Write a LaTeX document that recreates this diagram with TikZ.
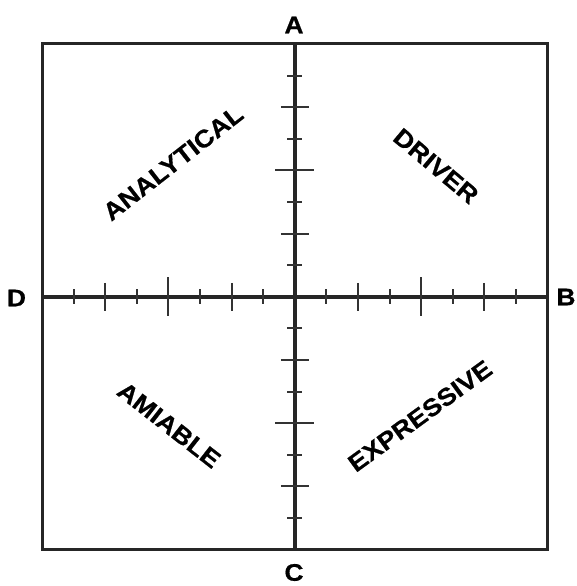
\documentclass[tikz,border=0pt]{standalone}
\usepackage{fontspec}
\setmainfont{Liberation Sans}[FakeStretch=1.1, BoldFeatures={FakeBold=0.6}]
\usetikzlibrary{calc}

\begin{document}
\begin{tikzpicture}[
  x=1pt, y=-1pt,
  frame/.style={draw=black!85, line width=3pt},
  axisline/.style={draw=black!85, line width=3.6pt},
  tickmark/.style={draw=black!80, line width=2pt},
  pole/.style={font=\fontsize{24}{24}\selectfont\bfseries, inner sep=0pt},
  quad/.style={font=\fontsize{24.5}{24.5}\selectfont\bfseries, inner sep=0pt}
]
  \useasboundingbox (0,0) rectangle (577,586);

  % frame and axes
  \coordinate (nw) at (42,44);
  \coordinate (se) at (547.5,549.5);
  \coordinate (o) at (294.75,296.75);
  \coordinate (top) at (294.75,44);
  \coordinate (bot) at (294.75,549.5);
  \coordinate (lft) at (42,296.75);
  \coordinate (rgt) at (547.5,296.75);
  \draw[frame] (nw) rectangle (se);
  \draw[axisline] (lft) -- (rgt);
  \draw[axisline] (top) -- (bot);

  % scale marks
  \foreach \k in {1,...,7} {
    \pgfmathsetmacro\h{\k==4 ? 19.5 : (mod(\k,2)==0 ? 14 : 7.5)}
    \foreach \s in {-1,1} {
      \draw[tickmark] ([shift={(\s*\k*31.6,-\h)}]o) -- ([shift={(\s*\k*31.6,\h)}]o);
      \draw[tickmark] ([shift={(-\h,\s*\k*31.6)}]o) -- ([shift={(\h,\s*\k*31.6)}]o);
    }
  }

  % poles
  \node[pole] (a) at (294,25) {A};
  \node[pole] (c) at (294,572.5) {C};
  \node[pole] (d) at (16.5,298) {D};
  \node[pole] (b) at (566,297) {B};

  % quadrants
  \node[quad, rotate=38] (analytical) at (173,163) {ANALYTICAL};
  \node[quad, rotate=-40] (driver) at (436,166) {DRIVER};
  \node[quad, rotate=-38] (amiable) at (169,425) {AMIABLE};
  \node[quad, rotate=36] (expressive) at (420,416) {EXPRESSIVE};
\end{tikzpicture}
\end{document}
